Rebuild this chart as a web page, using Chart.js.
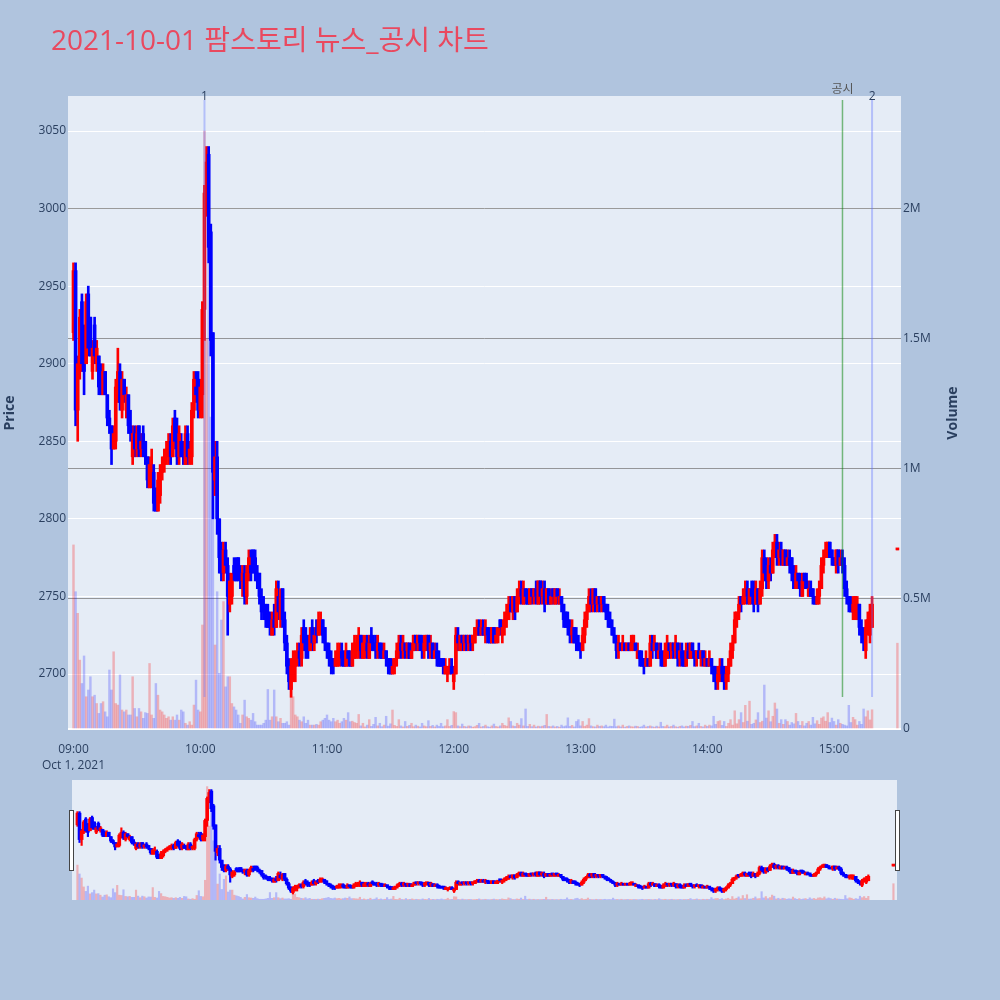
<!DOCTYPE html>
<html lang="ko">
<head>
<meta charset="UTF-8">
<title>2021-10-01 팜스토리 뉴스_공시 차트</title>
<script src="https://cdn.jsdelivr.net/npm/chart.js@4.4.0/dist/chart.umd.min.js"></script>
<style>
  body { margin: 0; background: #b0c4de; }
  .wrap { position: relative; width: 1000px; height: 1000px; }
  #main { position: absolute; left: 0; top: 0; }
  #slider { position: absolute; left: 0; top: 770px; }
</style>
</head>
<body>
<div class="wrap">
  <canvas id="main" width="1000" height="770"></canvas>
  <canvas id="slider" width="1000" height="230"></canvas>
</div>
<script>
// 1분봉 (index = 09:00 이후 경과 분)
var openP = [
  2920,2960,2870,2895,2940,2915,2900,2945,2930,2895,
  2925,2900,2905,2890,2880,2895,2880,2865,2860,2845,
  2850,2880,2895,2870,2890,2870,2880,2860,2840,2855,
  2845,2860,2845,2855,2850,2840,2820,2825,2830,2815,
  2805,2815,2830,2835,2840,2840,2850,2840,2865,2855,
  2840,2850,2845,2835,2855,2840,2840,2870,2885,2890,
  2870,2880,2935,3010,3035,2985,2920,2825,2840,2800,
  2780,2765,2780,2770,2745,2750,2770,2770,2775,2765,
  2760,2765,2750,2765,2770,2780,2775,2765,2765,2750,
  2745,2740,2740,2735,2725,2735,2730,2750,2735,2755,
  2735,2720,2705,2690,2700,2705,2710,2715,2710,2730,
  2725,2720,2715,2730,2720,2730,2725,2730,2735,2730,
  2720,2715,2710,2710,2705,2705,2710,2715,2710,2705,
  2715,2710,2705,2710,2715,2715,2725,2710,2715,2720,
  2710,2725,2720,2720,2715,2720,2715,2710,2715,2710,
  2710,2700,2705,2710,2715,2720,2715,2720,2715,2720,
  2710,2715,2725,2720,2725,2720,2715,2720,2725,2715,
  2720,2710,2715,2710,2710,2710,2700,2700,2700,2705,
  2695,2700,2725,2715,2725,2720,2725,2720,2725,2720,
  2720,2725,2730,2725,2730,2725,2730,2725,2720,2730,
  2720,2725,2735,2725,2730,2735,2735,2745,2740,2750,
  2740,2750,2755,2745,2755,2750,2745,2755,2750,2755,
  2745,2760,2750,2755,2745,2755,2745,2755,2745,2755,
  2745,2750,2745,2740,2735,2730,2725,2730,2725,2720,
  2720,2715,2725,2735,2740,2750,2745,2755,2745,2750,
  2745,2750,2745,2740,2735,2730,2725,2720,2715,2720,
  2715,2720,2715,2720,2715,2720,2720,2710,2715,2710,
  2710,2705,2710,2705,2720,2715,2720,2710,2715,2710,
  2705,2710,2720,2715,2720,2715,2720,2710,2715,2710,
  2705,2715,2710,2720,2715,2710,2715,2710,2715,2705,
  2710,2705,2710,2705,2700,2695,2700,2705,2700,2695,
  2700,2705,2715,2720,2735,2740,2750,2745,2750,2755,
  2745,2755,2750,2745,2755,2745,2755,2775,2765,2760,
  2770,2765,2780,2785,2775,2780,2770,2780,2770,2775,
  2775,2765,2755,2765,2760,2750,2765,2760,2750,2755,
  2755,2750,2745,2750,2755,2770,2775,2780,2785,2780,
  2775,2770,2780,2770,2775,2770,2755,2750,2745,2740,
  2740,2735,2745,2730,2725,2715,2730,2725,2730
];
var highP = [
  2965,2965,2905,2935,2945,2925,2945,2950,2930,2915,
  2930,2915,2905,2900,2900,2895,2880,2870,2860,2860,
  2890,2910,2900,2895,2890,2885,2880,2870,2860,2860,
  2860,2860,2855,2860,2850,2840,2840,2845,2835,2820,
  2830,2835,2840,2845,2850,2855,2855,2865,2870,2865,
  2860,2855,2850,2860,2860,2850,2875,2895,2895,2895,
  2890,2940,3015,3040,3040,2990,2920,2850,2850,2800,
  2785,2785,2785,2775,2765,2765,2775,2775,2775,2770,
  2770,2770,2770,2780,2780,2780,2780,2770,2765,2755,
  2750,2745,2745,2740,2740,2745,2760,2760,2755,2755,
  2740,2725,2710,2710,2715,2715,2720,2720,2730,2735,
  2730,2725,2730,2735,2730,2735,2740,2740,2735,2730,
  2720,2720,2715,2710,2715,2720,2720,2720,2715,2720,
  2715,2715,2720,2725,2725,2730,2725,2725,2725,2725,
  2725,2730,2725,2725,2725,2720,2720,2720,2715,2710,
  2710,2710,2710,2720,2725,2725,2725,2720,2720,2720,
  2720,2725,2725,2725,2725,2725,2725,2725,2725,2725,
  2720,2720,2720,2715,2710,2710,2710,2705,2710,2710,
  2705,2730,2730,2725,2725,2725,2725,2725,2725,2725,
  2730,2735,2735,2735,2735,2735,2730,2730,2730,2730,
  2730,2730,2735,2735,2740,2745,2750,2750,2750,2750,
  2755,2760,2760,2760,2755,2755,2755,2755,2755,2760,
  2760,2760,2760,2760,2755,2755,2755,2755,2755,2755,
  2755,2750,2745,2740,2740,2735,2735,2730,2730,2725,
  2720,2730,2740,2745,2755,2755,2755,2755,2750,2750,
  2750,2750,2745,2745,2740,2735,2730,2725,2725,2720,
  2725,2720,2720,2720,2725,2725,2720,2720,2715,2715,
  2710,2715,2710,2725,2725,2725,2720,2720,2720,2715,
  2720,2725,2720,2720,2720,2725,2720,2720,2720,2715,
  2720,2720,2720,2720,2715,2715,2720,2715,2715,2715,
  2710,2715,2710,2705,2705,2705,2710,2710,2705,2705,
  2710,2720,2725,2740,2740,2750,2750,2755,2760,2760,
  2755,2760,2760,2760,2755,2760,2780,2780,2775,2775,
  2775,2785,2790,2790,2785,2785,2780,2780,2780,2780,
  2775,2770,2770,2765,2765,2765,2765,2765,2760,2760,
  2755,2750,2755,2760,2775,2780,2785,2785,2785,2780,
  2775,2780,2780,2780,2780,2775,2760,2750,2750,2750,
  2750,2750,2745,2735,2730,2735,2740,2745,2750
];
var lowP = [
  2915,2860,2850,2890,2895,2880,2900,2905,2905,2890,
  2900,2895,2880,2880,2880,2880,2860,2855,2835,2845,
  2845,2875,2870,2865,2875,2865,2855,2850,2835,2840,
  2840,2840,2840,2840,2835,2820,2820,2820,2805,2805,
  2805,2810,2825,2830,2835,2835,2835,2840,2845,2835,
  2835,2840,2835,2835,2835,2835,2835,2865,2875,2865,
  2865,2865,2915,2995,2965,2905,2800,2815,2790,2765,
  2760,2760,2765,2725,2740,2745,2760,2760,2760,2755,
  2750,2745,2745,2760,2760,2765,2760,2755,2745,2735,
  2735,2730,2730,2725,2725,2725,2730,2735,2730,2730,
  2715,2700,2690,2685,2695,2695,2705,2705,2705,2715,
  2710,2710,2715,2715,2715,2720,2725,2725,2720,2715,
  2710,2705,2700,2700,2705,2705,2705,2705,2705,2705,
  2705,2705,2705,2710,2710,2710,2710,2710,2710,2710,
  2710,2715,2715,2710,2710,2710,2710,2710,2705,2700,
  2700,2700,2700,2705,2710,2710,2710,2710,2710,2710,
  2710,2715,2715,2715,2715,2710,2710,2715,2710,2710,
  2710,2710,2705,2705,2705,2700,2700,2695,2700,2700,
  2690,2700,2715,2715,2715,2715,2715,2715,2715,2715,
  2720,2725,2725,2725,2725,2720,2720,2720,2720,2720,
  2720,2720,2725,2720,2725,2730,2735,2740,2735,2735,
  2740,2745,2745,2745,2745,2745,2745,2745,2745,2745,
  2745,2745,2745,2740,2745,2745,2745,2745,2745,2745,
  2745,2740,2730,2730,2725,2720,2720,2720,2715,2715,
  2710,2715,2720,2730,2740,2740,2740,2740,2740,2740,
  2740,2740,2735,2730,2730,2725,2720,2710,2710,2715,
  2715,2715,2715,2715,2715,2715,2715,2710,2705,2705,
  2700,2705,2705,2705,2710,2715,2710,2710,2705,2705,
  2705,2710,2710,2710,2710,2710,2705,2705,2705,2705,
  2705,2710,2710,2710,2705,2705,2710,2705,2705,2705,
  2705,2705,2700,2695,2690,2690,2695,2695,2690,2690,
  2695,2705,2710,2720,2730,2735,2740,2745,2745,2745,
  2745,2745,2740,2745,2740,2745,2750,2760,2755,2755,
  2760,2765,2775,2770,2770,2770,2770,2770,2770,2765,
  2760,2755,2755,2755,2750,2750,2755,2755,2750,2750,
  2745,2745,2745,2745,2755,2765,2775,2775,2775,2770,
  2770,2765,2765,2770,2765,2750,2745,2740,2740,2735,
  2735,2735,2725,2720,2715,2710,2725,2720,2730
];
var closeP = [
  2960,2870,2900,2930,2900,2895,2940,2910,2905,2910,
  2905,2910,2885,2880,2895,2880,2865,2860,2845,2855,
  2885,2895,2875,2890,2880,2880,2860,2855,2855,2845,
  2855,2845,2850,2845,2840,2825,2835,2830,2810,2805,
  2825,2830,2835,2840,2845,2850,2840,2860,2850,2840,
  2855,2840,2840,2855,2840,2845,2870,2890,2880,2870,
  2885,2935,3010,3030,2975,2915,2830,2840,2800,2775,
  2765,2780,2770,2750,2760,2760,2765,2760,2765,2760,
  2765,2750,2765,2775,2765,2770,2765,2760,2750,2740,
  2740,2735,2730,2730,2735,2730,2755,2740,2750,2735,
  2720,2705,2695,2705,2710,2710,2715,2710,2725,2720,
  2715,2715,2725,2720,2725,2725,2735,2735,2725,2720,
  2715,2710,2705,2705,2710,2715,2715,2710,2705,2715,
  2710,2705,2715,2720,2720,2725,2715,2720,2720,2715,
  2720,2720,2715,2715,2720,2715,2710,2715,2710,2705,
  2700,2705,2710,2715,2720,2715,2720,2715,2720,2710,
  2715,2725,2720,2725,2720,2715,2720,2725,2715,2720,
  2710,2715,2710,2705,2705,2705,2705,2705,2705,2700,
  2700,2725,2720,2725,2720,2725,2720,2725,2720,2725,
  2730,2730,2725,2730,2725,2730,2725,2720,2730,2720,
  2725,2730,2730,2730,2735,2740,2745,2740,2750,2740,
  2750,2755,2750,2755,2750,2745,2755,2750,2755,2750,
  2760,2750,2755,2745,2755,2745,2750,2750,2755,2750,
  2750,2745,2735,2730,2730,2725,2730,2720,2720,2715,
  2715,2725,2735,2740,2750,2745,2755,2745,2750,2745,
  2750,2745,2740,2735,2730,2725,2720,2715,2720,2715,
  2720,2715,2720,2715,2720,2725,2715,2715,2710,2705,
  2705,2710,2705,2720,2715,2720,2710,2715,2710,2705,
  2715,2720,2715,2720,2715,2720,2710,2715,2710,2705,
  2715,2710,2720,2715,2710,2715,2710,2715,2710,2710,
  2705,2710,2705,2700,2695,2700,2705,2700,2695,2700,
  2705,2715,2720,2735,2740,2745,2745,2750,2755,2750,
  2755,2750,2745,2755,2745,2755,2775,2765,2760,2770,
  2765,2780,2785,2775,2780,2775,2780,2770,2775,2770,
  2765,2755,2765,2760,2755,2760,2760,2755,2755,2750,
  2750,2745,2750,2755,2770,2775,2780,2785,2775,2775,
  2770,2780,2770,2775,2770,2755,2750,2745,2740,2745,
  2750,2745,2730,2725,2720,2730,2735,2740,2745
];
// 거래량 (천주)
var volumeK = [
  708,528,445,265,175,281,124,150,201,124,
  130,98,60,98,105,66,47,227,150,297,
  98,92,208,73,66,73,54,54,201,79,
  47,79,66,41,63,60,252,54,41,175,
  130,73,66,54,41,47,34,47,34,54,
  34,73,66,22,15,28,15,92,188,73,
  66,400,2300,1500,1900,1200,880,323,528,214,
  419,490,162,201,201,98,85,73,54,22,
  54,111,47,41,34,60,28,15,15,15,
  22,34,152,34,47,150,47,28,41,22,
  22,28,15,150,124,54,47,34,28,47,
  22,34,15,15,15,18,15,28,34,41,
  54,34,28,41,28,34,22,28,41,34,
  63,28,30,25,22,56,12,22,8,15,
  36,10,18,45,12,22,9,15,49,11,
  20,73,14,10,36,12,8,29,10,14,
  22,9,15,11,8,22,12,9,32,10,
  14,8,15,10,22,9,12,36,10,14,
  67,63,12,9,19,10,8,12,11,7,
  9,14,22,8,10,15,9,7,12,19,
  10,8,12,22,14,11,43,29,12,10,
  22,15,40,12,77,10,18,9,15,8,
  11,9,11,14,56,10,9,12,8,10,
  7,15,9,12,43,10,14,8,29,36,
  12,29,10,15,40,12,9,8,15,10,
  12,9,15,8,11,10,38,9,12,8,
  15,7,10,12,9,8,11,10,7,9,
  15,8,10,12,9,7,11,8,26,10,
  9,15,8,10,15,9,7,10,12,8,
  11,10,14,29,9,12,22,10,8,15,
  10,15,12,49,18,29,32,14,29,10,
  22,36,15,70,20,36,63,25,91,30,
  107,18,22,35,63,25,30,169,42,70,
  28,49,100,77,22,36,18,36,29,15,
  25,20,60,29,14,29,12,22,29,15,
  45,20,32,18,42,47,30,63,25,42,
  29,15,36,22,18,15,12,91,25,45,
  36,15,29,18,77,47,70,35,74
];
// 15:30 동시호가
var auctionMinute = [390];
var auctionPrice = [2780];
var auctionVolumeK = [330];

var timeTicks = [0, 60, 120, 180, 240, 300, 360];
var timeTickLabels = ['09:00', '10:00', '11:00', '12:00', '13:00', '14:00', '15:00'];
var priceTicks = [2700, 2750, 2800, 2850, 2900, 2950, 3000, 3050];
var volumeTicks = [0, 500, 1000, 1500, 2000];
var volumeTickLabels = ['0', '0.5M', '1M', '1.5M', '2M'];

// 세로 표시선 (분)
var markMinutes = [62, 364, 378];
var markLabels = ['1', '공시', '2'];

var FONT = "'Open Sans', 'Noto Sans CJK KR', sans-serif";
var TXT = '#2a3f5f';

// 봉 데이터 합치기
var mins = [], o = [], h = [], l = [], c = [], v = [];
for (var i = 0; i < openP.length; i++) {
  mins.push(i); o.push(openP[i]); h.push(highP[i]); l.push(lowP[i]); c.push(closeP[i]); v.push(volumeK[i]);
}
for (var j = 0; j < auctionMinute.length; j++) {
  mins.push(auctionMinute[j]); o.push(auctionPrice[j]); h.push(auctionPrice[j]);
  l.push(auctionPrice[j]); c.push(auctionPrice[j]); v.push(auctionVolumeK[j]);
}
var isUp = c.map(function (x, k) { return x >= o[k]; });

function makeSets(wickW, bodyW, volW) {
  return [
    {
      yAxisID: 'y1', order: 3, grouped: false, barThickness: volW,
      data: mins.map(function (m, k) { return { x: m, y: v[k] }; }),
      backgroundColor: isUp.map(function (u) { return u ? 'rgba(255,0,0,0.25)' : 'rgba(0,0,255,0.22)'; })
    },
    {
      yAxisID: 'y', order: 2, grouped: false, barThickness: wickW,
      data: mins.map(function (m, k) { return { x: m, y: [l[k], h[k]] }; }),
      backgroundColor: isUp.map(function (u) { return u ? '#ff0000' : '#0000ff'; })
    },
    {
      yAxisID: 'y', order: 1, grouped: false, barThickness: bodyW, minBarLength: 2,
      data: mins.map(function (m, k) { return { x: m, y: [o[k], c[k]] }; }),
      backgroundColor: isUp.map(function (u) { return u ? '#ff0000' : '#0000ff'; })
    }
  ];
}

var plotBg = {
  id: 'plotBg',
  beforeDraw: function (chart) {
    var a = chart.chartArea, ctx = chart.ctx;
    ctx.save();
    ctx.fillStyle = '#e5ecf6';
    ctx.fillRect(a.left, a.top, a.right - a.left, a.bottom - a.top);
    ctx.restore();
  }
};

var decorations = {
  id: 'decorations',
  afterDatasetsDraw: function (chart) {
    var ctx = chart.ctx, xs = chart.scales.x;
    ctx.save();
    markMinutes.forEach(function (m, k) {
      var x = xs.getPixelForValue(m);
      ctx.beginPath();
      if (markLabels[k] === '공시') {
        ctx.strokeStyle = 'rgba(0,128,0,0.5)';
        ctx.lineWidth = 1.5;
      } else {
        ctx.strokeStyle = 'rgba(90,110,255,0.35)';
        ctx.lineWidth = 2;
      }
      ctx.moveTo(x, 100);
      ctx.lineTo(x, 697);
      ctx.stroke();
      ctx.font = '12px ' + FONT;
      ctx.textAlign = 'center';
      ctx.textBaseline = 'middle';
      ctx.fillStyle = markLabels[k] === '공시' ? '#555' : TXT;
      ctx.fillText(markLabels[k], x, markLabels[k] === '공시' ? 90 : 97);
    });
    ctx.restore();
  },
  afterDraw: function (chart) {
    var ctx = chart.ctx;
    ctx.save();
    ctx.fillStyle = '#e9495f';
    ctx.font = '28px ' + FONT;
    ctx.textBaseline = 'alphabetic';
    ctx.textAlign = 'left';
    ctx.fillText('2021-10-01 팜스토리 뉴스_공시 차트', 51, 50);

    ctx.fillStyle = TXT;
    ctx.font = 'bold 14px ' + FONT;
    ctx.textAlign = 'center';
    ctx.textBaseline = 'middle';
    ctx.translate(10, 413);
    ctx.rotate(-Math.PI / 2);
    ctx.fillText('Price', 0, 0);
    ctx.rotate(Math.PI / 2);
    ctx.translate(943, 0);
    ctx.rotate(-Math.PI / 2);
    ctx.fillText('Volume', 0, 0);
    ctx.restore();
  }
};

new Chart(document.getElementById('main'), {
  type: 'bar',
  data: { datasets: makeSets(2, 3, 1.8) },
  options: {
    responsive: false,
    animation: false,
    devicePixelRatio: 1,
    layout: { padding: { top: 96, left: 0, right: 0, bottom: 0 } },
    plugins: { legend: { display: false }, tooltip: { enabled: false } },
    scales: {
      x: {
        type: 'linear', min: -2.6, max: 391.7, offset: false,
        grid: { display: false, offset: false },
        border: { display: false },
        afterBuildTicks: function (s) { s.ticks = timeTicks.map(function (t) { return { value: t }; }); },
        afterFit: function (s) { s.height = 41; },
        ticks: {
          autoSkip: false, maxRotation: 0, padding: 4, color: TXT,
          font: { family: FONT, size: 12, lineHeight: 1.35 },
          callback: function (val) {
            var k = timeTicks.indexOf(val);
            return k === 0 ? [timeTickLabels[0], 'Oct 1, 2021'] : timeTickLabels[k];
          }
        }
      },
      y: {
        position: 'left', min: 2664.55, max: 3072.56,
        grid: { color: '#ffffff', lineWidth: 1, drawTicks: false },
        border: { display: false },
        afterBuildTicks: function (s) { s.ticks = priceTicks.map(function (t) { return { value: t }; }); },
        afterFit: function (s) { s.width = 68; },
        ticks: {
          padding: 2, color: TXT, font: { family: FONT, size: 12 },
          callback: function (val) { return String(val); }
        }
      },
      y1: {
        position: 'right', min: 0, max: 2434.6,
        grid: {
          drawTicks: false,
          color: function (ctx) { return ctx.tick && ctx.tick.value === 0 ? '#ffffff' : 'rgba(120,120,120,0.75)'; },
          lineWidth: function (ctx) { return ctx.tick && ctx.tick.value === 0 ? 2 : 1; }
        },
        border: { display: false },
        afterBuildTicks: function (s) { s.ticks = volumeTicks.map(function (t) { return { value: t }; }); },
        afterFit: function (s) { s.width = 99; },
        ticks: {
          padding: 2, color: TXT, font: { family: FONT, size: 12 },
          callback: function (val) { return volumeTickLabels[volumeTicks.indexOf(val)]; }
        }
      }
    }
  },
  plugins: [plotBg, decorations]
});

// 하단 range slider
var handles = {
  id: 'handles',
  afterDraw: function (chart) {
    var ctx = chart.ctx;
    ctx.save();
    ctx.fillStyle = '#ffffff';
    ctx.strokeStyle = '#444444';
    ctx.lineWidth = 1;
    [69.5, 895.5].forEach(function (x) {
      ctx.fillRect(x, 40.5, 4, 60);
      ctx.strokeRect(x, 40.5, 4, 60);
    });
    ctx.restore();
  }
};

new Chart(document.getElementById('slider'), {
  type: 'bar',
  data: { datasets: makeSets(1.5, 3, 1.5) },
  options: {
    responsive: false,
    animation: false,
    devicePixelRatio: 1,
    layout: { padding: { top: 10, left: 72, right: 103, bottom: 100 } },
    plugins: { legend: { display: false }, tooltip: { enabled: false } },
    scales: {
      x: { type: 'linear', min: -2.6, max: 391.7, offset: false, display: false },
      y: { min: 2664.55, max: 3072.56, display: false },
      y1: { min: 0, max: 2434.6, display: false }
    }
  },
  plugins: [plotBg, handles]
});
</script>
</body>
</html>
